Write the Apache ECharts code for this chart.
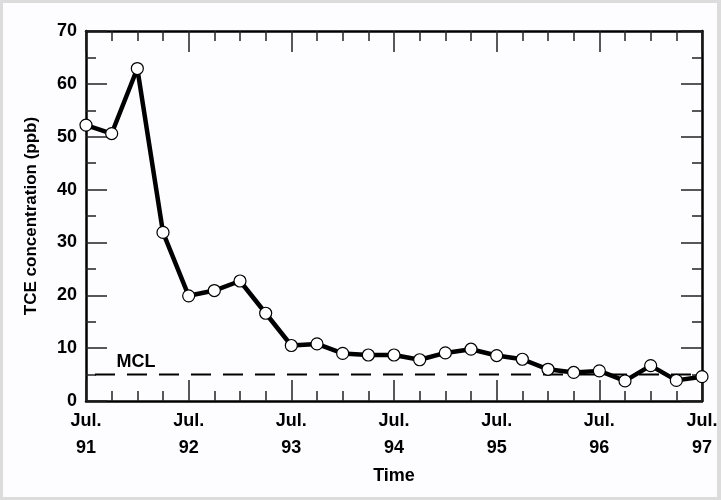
<!DOCTYPE html>
<html>
<head>
<meta charset="utf-8">
<script src="https://cdn.jsdelivr.net/npm/echarts@6/dist/echarts.min.js"></script>
<style>
  html, body { margin: 0; padding: 0; background: #dcdcdc; }
  #chart { position: absolute; left: 3px; top: 3px; width: 714px; height: 494px; background: #fdfcfe; }
</style>
</head>
<body>
<div id="chart"></div>
<script>
// Quarterly sampling index: 0 = Jul. 91, 4 = Jul. 92, ... 24 = Jul. 97
const quarters = [0,1,2,3,4,5,6,7,8,9,10,11,12,13,14,15,16,17,18,19,20,21,22,23,24];
// TCE concentration (ppb) at each quarterly sampling
const tce = [52.2,50.6,62.9,31.9,19.9,20.9,22.7,16.6,10.5,10.8,9.0,8.7,8.7,7.8,9.1,9.8,8.6,7.9,6.0,5.4,5.7,3.8,6.7,3.9,4.6];
// Year labels for the July ticks
const yearLabels = ['91','92','93','94','95','96','97'];
// Maximum contaminant level (ppb) and where its dashed line starts
const mclValue = 5;
const mclStart = 0.35;

const font = '"Liberation Sans", Arial, Helvetica, sans-serif';

const chart = echarts.init(document.getElementById('chart'));

const tickStyle = { color: '#222', width: 1.5 };
const baseX = {
  type: 'value', min: 0, max: 24, interval: 4,
  axisLine: { show: true, onZero: false, lineStyle: { color: '#000', width: 2.5 } },
  axisTick: { show: true, inside: true, length: 21, lineStyle: tickStyle },
  minorTick: { show: true, splitNumber: 4, length: 10, lineStyle: tickStyle },
  splitLine: { show: false }
};
const baseY = {
  type: 'value', min: 0, max: 70, interval: 10,
  axisLine: { show: true, onZero: false, lineStyle: { color: '#000', width: 2.5 } },
  axisTick: { show: true, inside: true, length: 21, lineStyle: tickStyle },
  minorTick: { show: true, splitNumber: 2, length: 10, lineStyle: tickStyle },
  splitLine: { show: false }
};

chart.setOption({
  animation: false,
  backgroundColor: '#fdfcfe',
  grid: { left: 83, right: 15, top: 28, bottom: 96, outerBoundsMode: 'none', containLabel: false },
  xAxis: [
    Object.assign({}, baseX, {
      position: 'bottom',
      name: 'Time', nameLocation: 'middle', nameGap: 63,
      nameTextStyle: { fontFamily: font, fontWeight: 'bold', fontSize: 18, color: '#000' },
      axisLabel: {
        margin: 7,
        fontFamily: font, fontWeight: 'bold', fontSize: 18, color: '#000', lineHeight: 27,
        formatter: v => 'Jul.\n' + yearLabels[v / 4]
      }
    }),
    Object.assign({}, baseX, { position: 'top', axisLabel: { show: false } })
  ],
  yAxis: [
    Object.assign({}, baseY, {
      position: 'left',
      name: 'TCE concentration (ppb)', nameLocation: 'middle', nameGap: 46,
      nameTextStyle: { fontFamily: font, fontWeight: 'bold', fontSize: 17, color: '#000' },
      axisLabel: { margin: 9, fontFamily: font, fontWeight: 'bold', fontSize: 18, color: '#000' }
    }),
    Object.assign({}, baseY, { position: 'right', axisLabel: { show: false } })
  ],
  series: [
    {
      type: 'line',
      data: [[mclStart, mclValue], [24, mclValue]],
      symbol: 'none',
      lineStyle: { color: '#000', width: 2, type: [20, 12] },
      z: 1
    },
    {
      type: 'scatter',
      data: [[mclStart, mclValue]],
      symbolSize: 1,
      itemStyle: { color: 'rgba(0,0,0,0)', opacity: 1 },
      label: {
        show: true, formatter: 'MCL', position: 'right',
        offset: [16, -13],
        fontFamily: font, fontWeight: 'bold', fontSize: 18, color: '#000', opacity: 1
      },
      z: 1
    },
    {
      type: 'line',
      data: quarters.map((q, i) => [q, tce[i]]),
      symbol: 'circle',
      symbolSize: 12,
      showAllSymbol: true,
      itemStyle: { color: '#fff', borderColor: '#000', borderWidth: 1.2 },
      lineStyle: { color: '#000', width: 4.5 },
      clip: false,
      z: 3
    }
  ]
});
</script>
</body>
</html>
